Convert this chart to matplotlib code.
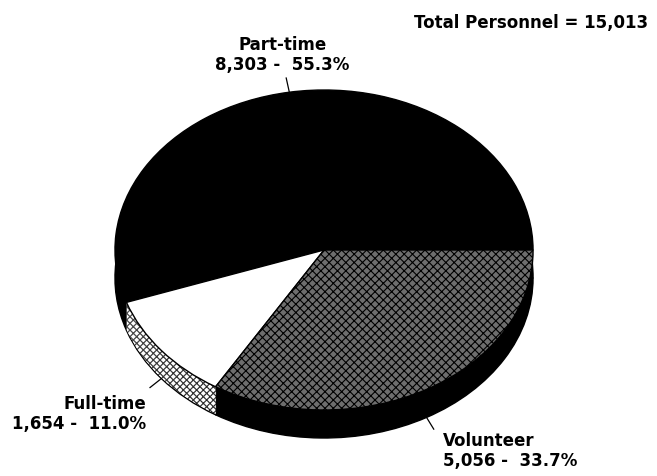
import numpy as np
import matplotlib.pyplot as plt

labels = ["Part-time", "Full-time", "Volunteer"]
counts = [8303, 1654, 5056]
top_colors = ["black", "white", "#6e6e6e"]
top_hatch = [None, None, "xxxx"]
side_colors = ["black", "white", "black"]
side_hatch = [None, "xxxxx", None]
total = sum(counts)

plt.rcParams['hatch.linewidth'] = 0.8

fig = plt.figure(figsize=(6.57, 4.76), dpi=100)
ax = fig.add_axes([0, 0, 1, 1])

# thickness of the "3d" pie, stacked flat pies shifted down
depth = 0.175
n_layers = 30
for k in range(n_layers, 0, -1):
    off = -depth * k / n_layers
    lw = 1.0 if k == n_layers else 0
    wedges, _ = ax.pie(counts, startangle=0, counterclock=True, center=(0, off),
                       colors=side_colors, wedgeprops=dict(linewidth=lw, edgecolor="black"))
    for w, h in zip(wedges, side_hatch):
        if h:
            w.set_hatch(h)

wedges, _ = ax.pie(counts, startangle=0, counterclock=True, center=(0, 0),
                   colors=top_colors, wedgeprops=dict(linewidth=1.0, edgecolor="black"))
for w, h in zip(wedges, top_hatch):
    if h:
        w.set_hatch(h)

# mid angles of each slice
mids = []
start = 0.0
for c in counts:
    span = 360.0 * c / total
    mids.append(np.deg2rad(start + span / 2))
    start += span

texts = [f"{lab}\n{c:,} -  {100 * c / total:.1f}%" for lab, c in zip(labels, counts)]
font = dict(fontsize=12, fontweight="bold", linespacing=1.15)

# Part-time: leader on the top face
a = mids[0]
ax.plot([np.cos(a), 1.09 * np.cos(a)], [np.sin(a), 1.09 * np.sin(a)], color="black", lw=0.9)
ax.text(-0.2, 1.22, texts[0], ha="center", va="center", **font)

# Full-time and Volunteer: leaders from the bottom rim
for i, (tx, ty, ha) in zip([1, 2], [(-0.85, -1.025, "right"), (0.57, -1.256, "left")]):
    a = mids[i]
    x0, y0 = np.cos(a), np.sin(a) - depth
    ax.plot([x0, x0 * 1.07], [y0, y0 * 1.07], color="black", lw=0.9)
    ax.text(tx, ty, texts[i], ha=ha, va="center", **font)

fig.text(0.986, 0.952, f"Total Personnel = {total:,}", ha="right", va="center",
         fontsize=12, fontweight="bold")

ax.set_aspect("auto")
ax.set_xlim(-1.550, 1.593)
ax.set_ylim(-1.4125, 1.5625)
ax.axis("off")

fig.savefig("out.png", dpi=100)
